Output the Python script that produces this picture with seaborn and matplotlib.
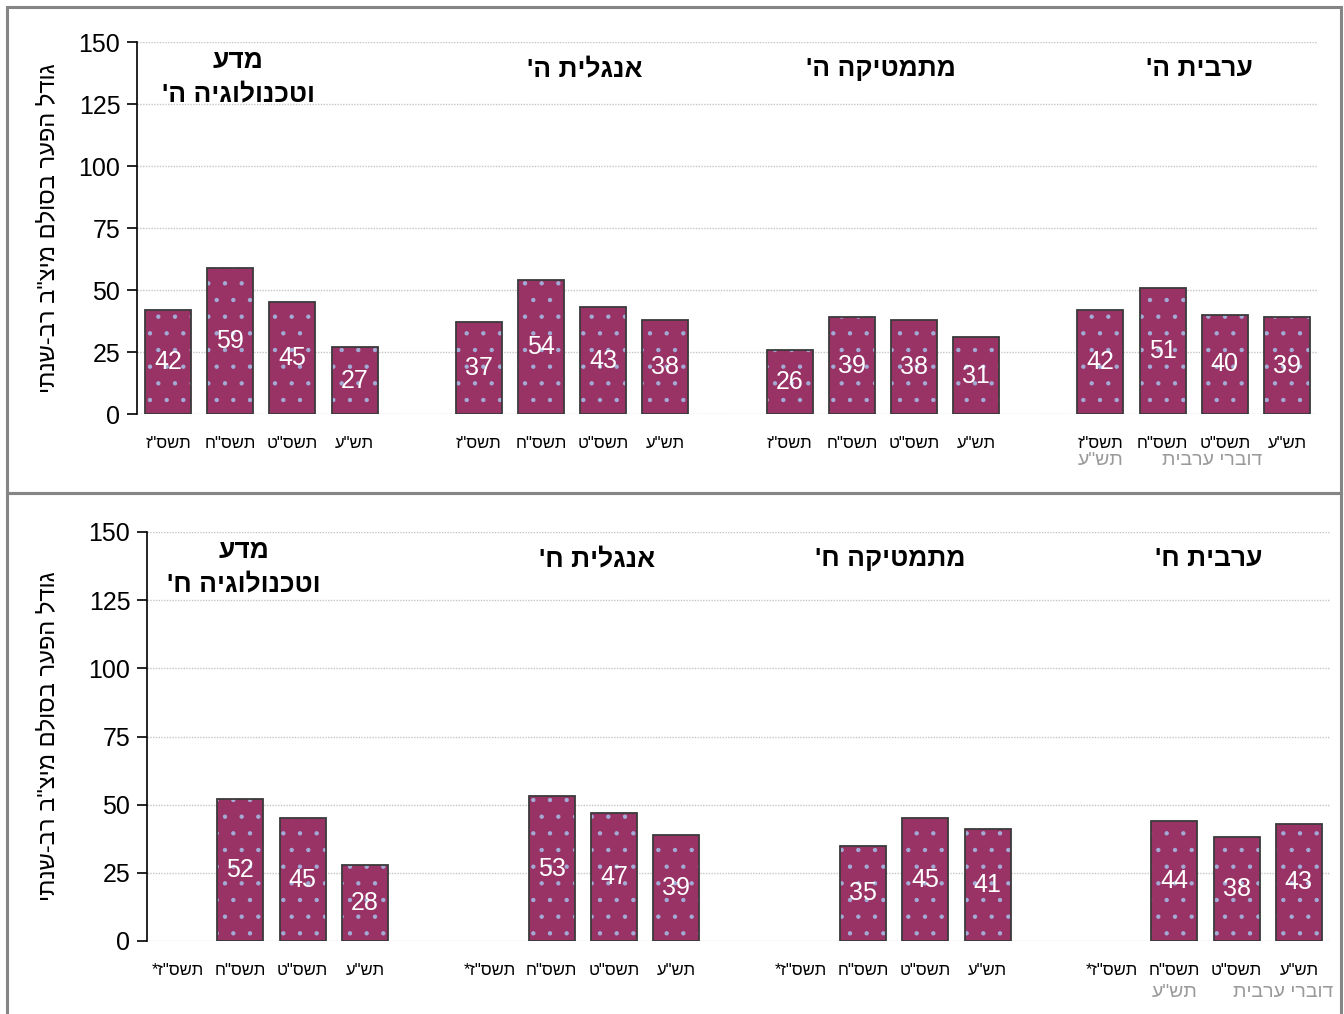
import numpy as np
import pandas as pd
import matplotlib
matplotlib.use("Agg")
import matplotlib.pyplot as plt
from matplotlib.patches import Rectangle
import seaborn as sns

# --- data (display order left -> right, as in the reference) ---
years_top = ['תשס"ז', 'תשס"ח', 'תשס"ט', 'תש"ע']
years_bottom = ['תשס"ז*', 'תשס"ח', 'תשס"ט', 'תש"ע']

titles_top = ["מדע\nוטכנולוגיה ה'", "אנגלית ה'", "מתמטיקה ה'", "ערבית ה'"]
titles_bottom = ["מדע\nוטכנולוגיה ח'", "אנגלית ח'", "מתמטיקה ח'", "ערבית ח'"]

science_5 = [42, 59, 45, 27]
english_5 = [37, 54, 43, 38]
math_5 = [26, 39, 38, 31]
arabic_5 = [42, 51, 40, 39]

science_8 = [np.nan, 52, 45, 28]
english_8 = [np.nan, 53, 47, 39]
math_8 = [np.nan, 35, 45, 41]
arabic_8 = [np.nan, 44, 38, 43]

y_label = 'גודל הפער בסולם מיצ"ב רב-שנתי'
note_year = 'תש"ע'
note_group = 'דוברי ערבית'

BAR = "#993366"
DOTS = "#a3acd6"
EDGE = "#3a3a3a"
BORDER = "#858585"


def rtl(s):
    # matplotlib has no bidi support: reverse each line for display
    return "\n".join(line[::-1] for line in s.split("\n"))


def build(groups, years):
    rows = []
    for g, vals in enumerate(groups):
        for i, v in enumerate(vals):
            rows.append({"pos": g * 5 + i, "year": years[i], "value": v})
    return pd.DataFrame(rows)


df_top = build([science_5, english_5, math_5, arabic_5], years_top)
df_bot = build([science_8, english_8, math_8, arabic_8], years_bottom)

sns.set_style("white")
plt.rcParams["font.family"] = ["Liberation Sans", "DejaVu Sans"]
plt.rcParams["hatch.linewidth"] = 0.7
plt.rcParams["text.color"] = "black"
plt.rcParams["axes.labelcolor"] = "black"
plt.rcParams["xtick.color"] = "black"
plt.rcParams["ytick.color"] = "black"

W, H = 1344, 1014
fig = plt.figure(figsize=(W / 100, H / 100), dpi=100)

# panel borders
fig.add_artist(Rectangle((7 / W, 1 - 493 / H), (1341 - 7) / W, (493 - 7) / H,
                         transform=fig.transFigure, fill=False, edgecolor=BORDER, lw=2.2))
fig.add_artist(Rectangle((7 / W, -0.05), (1341 - 7) / W, 1 - 493 / H + 0.05,
                         transform=fig.transFigure, fill=False, edgecolor=BORDER, lw=2.2))

panels = [
    dict(df=df_top, rect=[137 / W, 1 - 414 / H, (1318 - 137) / W, (414 - 42) / H],
         titles=titles_top, title_x=[1.13, 6.71, 11.47, 16.59], title_y=[135.5, 139.0, 139.0, 139.0],
         note_x=(15.0, 16.8), ylab_x=-0.066),
    dict(df=df_bot, rect=[147 / W, 1 - 941 / H, (1330 - 147) / W, (941 - 532) / H],
         titles=titles_bottom, title_x=[1.06, 6.73, 11.44, 16.56], title_y=[137.0, 140.0, 140.0, 140.0],
         note_x=(16.0, 17.75), ylab_x=-0.074),
]

for p in panels:
    ax = fig.add_axes(p["rect"])
    d = p["df"].dropna(subset=["value"])

    # fill + dot pattern
    sns.barplot(data=d, x="pos", y="value", native_scale=True, width=0.74,
                color=BAR, edgecolor=DOTS, linewidth=0, hatch=".",
                errorbar=None, saturation=1, ax=ax)
    for bar in ax.patches:
        bar.set_facecolor(BAR)
    # outline on top
    sns.barplot(data=d, x="pos", y="value", native_scale=True, width=0.74,
                fill=False, edgecolor=EDGE, linewidth=1.3,
                errorbar=None, ax=ax)

    ax.bar_label(ax.containers[0], labels=[f"{v:.0f}" for v in d["value"]],
                 label_type="center", color="white", fontsize=18)

    ax.set_xlim(-0.5, 18.5)
    ax.set_ylim(0, 150)
    ax.set_yticks([0, 25, 50, 75, 100, 125, 150])
    ax.yaxis.grid(True, color="#c4c4c4", linestyle=(0, (1, 1)), linewidth=1)
    ax.set_axisbelow(True)

    full = p["df"]
    ax.set_xticks(full["pos"])
    ax.set_xticklabels([rtl(s) for s in full["year"]], fontsize=12)
    ax.tick_params(axis="x", length=0, pad=16)
    ax.tick_params(axis="y", length=7, width=1.2, direction="out", labelsize=18,
                   pad=5, color="black", left=True)

    for side in ["top", "right", "bottom"]:
        ax.spines[side].set_visible(False)
    ax.spines["left"].set_color("black")
    ax.spines["left"].set_linewidth(1.2)

    ax.set_xlabel("")
    ax.set_ylabel(rtl(y_label), fontsize=17)
    ax.yaxis.set_label_coords(p["ylab_x"], 0.5)

    for t, tx, ty in zip(p["titles"], p["title_x"], p["title_y"]):
        ax.text(tx, ty, rtl(t), ha="center", va="center", fontsize=19,
                fontweight="bold", linespacing=1.5)

    trans = ax.get_xaxis_transform()
    ax.text(p["note_x"][0], -0.125, rtl(note_year), transform=trans, ha="center",
            va="center", fontsize=14, color="#9a9a9a")
    ax.text(p["note_x"][1], -0.125, rtl(note_group), transform=trans, ha="center",
            va="center", fontsize=14, color="#9a9a9a")

fig.savefig("out.png", dpi=100)
